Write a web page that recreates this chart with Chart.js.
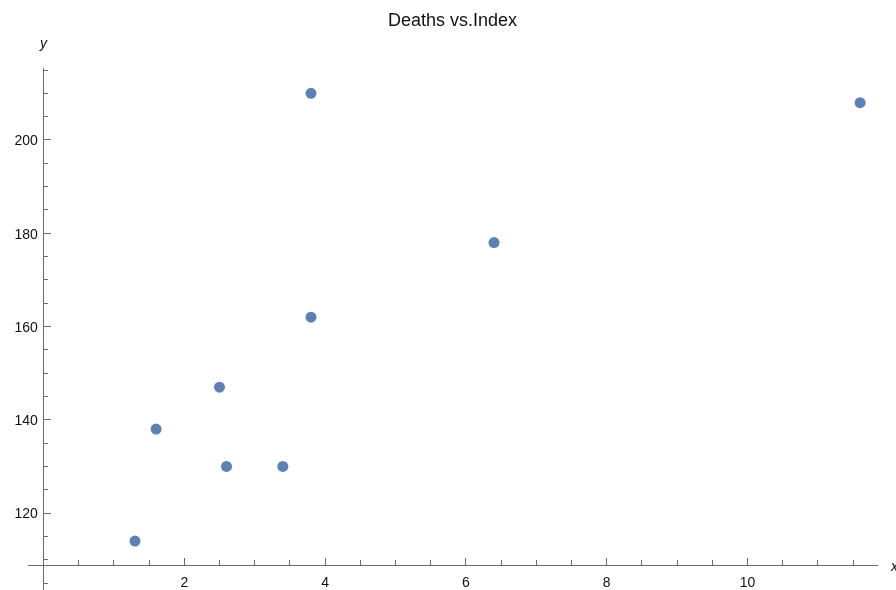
<!DOCTYPE html>
<html>
<head>
<meta charset="utf-8">
<script src="https://cdn.jsdelivr.net/npm/chart.js@4/dist/chart.umd.min.js"></script>
<style>
  html, body { margin: 0; padding: 0; background: #fff; }
  #wrap { width: 896px; height: 590px; }
</style>
</head>
<body>
<div id="wrap"><canvas id="chart"></canvas></div>
<script>
const chartTitle = 'Deaths vs.Index';
const xValues = [1.3, 1.6, 2.5, 2.6, 3.4, 3.8, 3.8, 6.4, 11.6];
const yValues = [114, 138, 147, 130, 130, 162, 210, 178, 208];

const xTicks = [2, 4, 6, 8, 10];
const xMinorTicks = [0.5, 1, 1.5, 2.5, 3, 3.5, 4.5, 5, 5.5, 6.5, 7, 7.5, 8.5, 9, 9.5, 10.5, 11, 11.5];
const yTicks = [120, 140, 160, 180, 200];
const yMinorTicks = [105, 110, 115, 125, 130, 135, 145, 150, 155, 165, 170, 175, 185, 190, 195, 205, 210, 215];

const xRange = [-0.22, 11.84];
const yRange = [103.5, 215.43];
const xAxisAt = 108.85;  // x axis crosses here
const yAxisAt = 0;

const axisColor = '#6b6b6b';
const font = "'Liberation Sans', Arial, sans-serif";

function setTicks(values) {
    return scale => { scale.ticks = values.map(v => ({ value: v })); };
}

function axisScale(ticks, pos, len, showLabels, showLine, pad) {
    const vertical = pos.x !== undefined;
    return {
        type: 'linear',
        min: vertical ? yRange[0] : xRange[0],
        max: vertical ? yRange[1] : xRange[1],
        position: pos,
        afterBuildTicks: setTicks(ticks),
        // axes sit inside the plot, so they should not take any layout room
        afterFit: scale => {
            if (vertical) scale.width = 0; else scale.height = 0;
            scale.paddingTop = scale.paddingBottom = 0;
            scale.paddingLeft = scale.paddingRight = 0;
        },
        grid: {
            display: true,
            drawOnChartArea: false,
            drawTicks: true,
            tickLength: len,
            tickColor: axisColor,
            tickWidth: 1
        },
        border: { display: showLine, color: axisColor, width: 1 },
        ticks: {
            display: showLabels,
            autoSkip: false,
            maxRotation: 0,
            padding: pad,
            labelOffset: vertical ? 1.5 : 0,
            color: '#111',
            font: { family: font, size: 14 },
            // labels of a value-positioned y axis get no padding, keep a small gap
            callback: v => vertical ? v + '\u2009\u2009' : v
        }
    };
}

// "x" and "y" axis names next to the axis ends
const axisNames = {
    id: 'axisNames',
    afterDraw(chart) {
        const { ctx, chartArea, scales } = chart;
        ctx.save();
        ctx.fillStyle = '#111';
        ctx.font = 'italic 14px ' + font;
        ctx.textBaseline = 'middle';
        ctx.textAlign = 'center';
        ctx.fillText('y', scales.x.getPixelForValue(yAxisAt), chartArea.top - 24);
        ctx.textAlign = 'left';
        ctx.fillText('x', chartArea.right + 14, scales.y.getPixelForValue(xAxisAt) + 2);
        ctx.restore();
    }
};

new Chart(document.getElementById('chart'), {
    type: 'scatter',
    data: {
        datasets: [{
            data: xValues.map((x, i) => ({ x: x, y: yValues[i] })),
            backgroundColor: '#5E81B5',
            borderWidth: 0,
            pointRadius: 5.5,
            pointHoverRadius: 5.5,
            xAxisID: 'x',
            yAxisID: 'y'
        }]
    },
    options: {
        responsive: true,
        maintainAspectRatio: false,
        animation: false,
        layout: { autoPadding: false, padding: { left: 28, right: 19, top: 0, bottom: 0 } },
        plugins: {
            legend: { display: false },
            tooltip: { enabled: false },
            title: {
                display: true,
                text: chartTitle,
                fullSize: false,
                color: '#111',
                font: { family: font, size: 18, weight: 'normal' },
                padding: { top: 10, bottom: 36.4 }
            }
        },
        scales: {
            x: axisScale(xTicks, { y: xAxisAt }, -8, true, true, 17.6),
            xMinor: axisScale(xMinorTicks, { y: xAxisAt }, -5, false, false, 0),
            y: axisScale(yTicks, { x: yAxisAt }, -8, true, true, 0),
            yMinor: axisScale(yMinorTicks, { x: yAxisAt }, -5, false, false, 0)
        }
    },
    plugins: [axisNames]
});
</script>
</body>
</html>
